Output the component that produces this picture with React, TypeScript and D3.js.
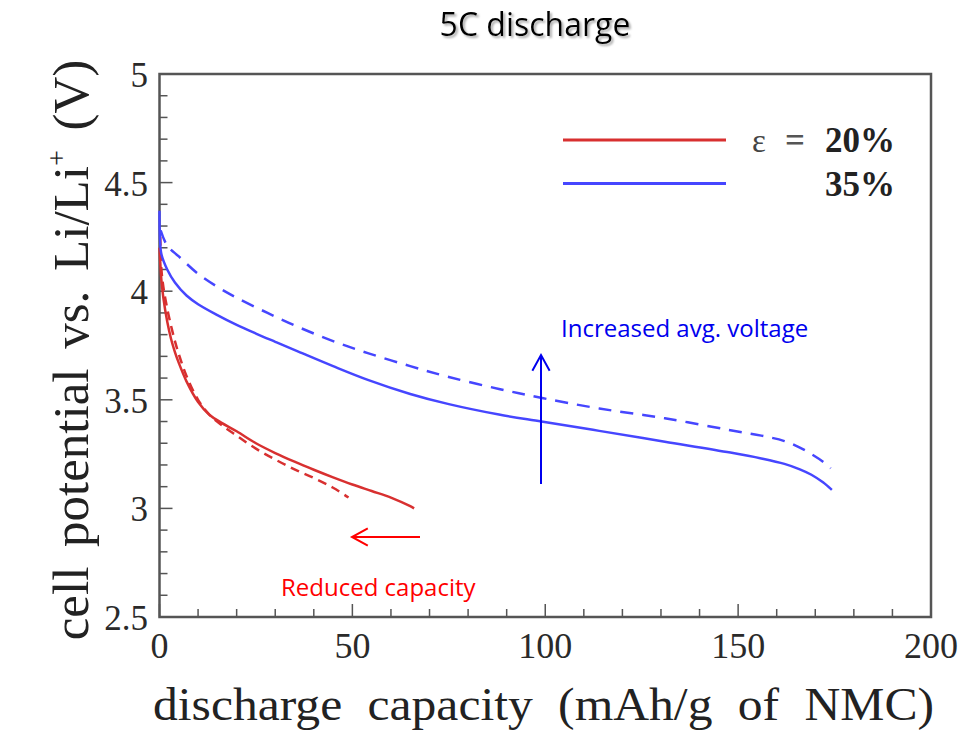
import { useEffect, useRef } from "react";
import * as d3 from "d3";

type Pt = [number, number];

// discharge capacity (mAh/g) vs cell potential (V)
const red20Solid: Pt[] = [
  [0, 4.2], [0.5, 4.05], [1, 3.97], [2, 3.86], [3, 3.78], [4, 3.72], [5, 3.67],
  [7, 3.585], [10, 3.49], [13, 3.43], [16, 3.395], [20, 3.355], [25, 3.3], [30, 3.255],
  [35, 3.215], [40, 3.178], [45, 3.143], [50, 3.11], [55, 3.08], [60, 3.05], [65, 3.01], [66, 3.0],
];
const red20Dashed: Pt[] = [
  [0.2, 4.25], [0.5, 4.1], [1, 4.02], [2, 3.92], [3, 3.84], [4, 3.77], [5, 3.71],
  [7, 3.61], [10, 3.5], [13, 3.43], [16, 3.385], [20, 3.335], [25, 3.275], [30, 3.225],
  [35, 3.18], [40, 3.14], [45, 3.095], [49, 3.05],
];
const blue35Solid: Pt[] = [
  [0, 4.37], [0.1, 4.25], [0.5, 4.17], [2, 4.1], [4, 4.04], [7, 3.98], [10, 3.94],
  [15, 3.89], [20, 3.845], [25, 3.805], [30, 3.767], [36, 3.722], [45, 3.655], [54, 3.592],
  [65, 3.527], [75, 3.48], [88, 3.432], [99, 3.4], [114, 3.357], [131, 3.307], [148, 3.257],
  [156, 3.23], [162, 3.205], [166, 3.18], [169, 3.155], [172, 3.12], [174.3, 3.085],
];
const blue35Dashed: Pt[] = [
  [0.3, 4.28], [2, 4.21], [5, 4.16], [10, 4.08], [15, 4.02], [20, 3.97], [28, 3.9],
  [36, 3.835], [45, 3.77], [54, 3.715], [65, 3.655], [75, 3.605], [88, 3.55], [99.5, 3.507],
  [114, 3.46], [131, 3.415], [148, 3.36], [156, 3.335], [162, 3.31], [166, 3.28],
  [169, 3.25], [172, 3.215], [174, 3.185],
];

const xTicks = [0, 50, 100, 150, 200];
const yTicks = [2.5, 3, 3.5, 4, 4.5, 5];
const legendLabels = ["20%", "35%"];

const RED = "#d83030";
const BLUE = "#4646ff";
const SERIF = "'Liberation Serif', 'Times New Roman', serif";
const SANS = "'Open Sans', 'Noto Sans', sans-serif";

export default function App() {
  const ref = useRef<SVGSVGElement | null>(null);

  useEffect(() => {
    if (!ref.current) return;
    const svg = d3.select(ref.current);
    svg.selectAll("*").remove();

    const x = d3.scaleLinear().domain([0, 200]).range([159.5, 931]);
    const y = d3.scaleLinear().domain([2.5, 5]).range([617, 74]);

    const defs = svg.append("defs");
    defs.append("filter").attr("id", "shadow")
      .append("feDropShadow").attr("dx", 2).attr("dy", 2)
      .attr("stdDeviation", 1.2).attr("flood-color", "#888").attr("flood-opacity", 0.7);

    // title with soft shadow
    svg.append("text").attr("x", 535).attr("y", 36).attr("text-anchor", "middle")
      .attr("font-family", SANS).attr("font-size", 32).attr("fill", "#000")
      .attr("filter", "url(#shadow)").text("5C discharge");

    // minor + major ticks (inward)
    const axisCol = "#555";
    const g = svg.append("g");
    d3.range(0, 201, 10).forEach(v => {
      const major = v % 50 === 0;
      g.append("line").attr("x1", x(v)).attr("x2", x(v))
        .attr("y1", y(2.5)).attr("y2", y(2.5) - (major ? 13 : 8))
        .attr("stroke", axisCol).attr("stroke-width", 1.5);
    });
    d3.range(25, 51, 1).forEach(i => {
      const v = i / 10;
      const major = i % 5 === 0;
      g.append("line").attr("y1", y(v)).attr("y2", y(v))
        .attr("x1", x(0)).attr("x2", x(0) + (major ? 13 : 8))
        .attr("stroke", axisCol).attr("stroke-width", 1.5);
    });
    g.append("rect").attr("x", x(0)).attr("y", y(5))
      .attr("width", x(200) - x(0)).attr("height", y(2.5) - y(5))
      .attr("fill", "none").attr("stroke", axisCol).attr("stroke-width", 2.5);

    // tick labels
    svg.append("g").selectAll("text").data(yTicks).enter().append("text")
      .attr("x", 148).attr("y", d => y(d) + 13).attr("text-anchor", "end")
      .attr("font-family", SERIF).attr("font-size", 35).attr("fill", "#2a2a2a")
      .text(d => String(d));
    svg.append("g").selectAll("text").data(xTicks).enter().append("text")
      .attr("x", d => x(d)).attr("y", 658).attr("text-anchor", "middle")
      .attr("font-family", SERIF).attr("font-size", 36).attr("fill", "#2a2a2a")
      .text(d => String(d));

    // axis titles
    svg.append("text").attr("x", 153).attr("y", 720)
      .attr("font-family", SERIF).attr("font-size", 46).attr("fill", "#222")
      .attr("word-spacing", 12)
      .attr("textLength", 781).attr("lengthAdjust", "spacingAndGlyphs")
      .text("discharge capacity (mAh/g of NMC)");

    const yt = svg.append("text").attr("transform", "translate(88,350) rotate(-90)")
      .attr("text-anchor", "middle").attr("font-family", SERIF).attr("font-size", 51)
      .attr("fill", "#222").attr("word-spacing", 7);
    yt.append("tspan").text("cell potential vs. Li/Li");
    yt.append("tspan").attr("dy", -22).attr("font-size", 28).text("+");
    yt.append("tspan").attr("dy", 22).text(" (V)");

    // curves
    const line = d3.line<Pt>().x(d => x(d[0])).y(d => y(d[1])).curve(d3.curveCatmullRom.alpha(0.5));
    const series: { data: Pt[]; color: string; dash?: string }[] = [
      { data: red20Dashed, color: RED, dash: "9,6" },
      { data: red20Solid, color: RED },
      { data: blue35Dashed, color: BLUE, dash: "13,9" },
      { data: blue35Solid, color: BLUE },
    ];
    series.forEach(s => {
      svg.append("path").datum(s.data).attr("d", line).attr("fill", "none")
        .attr("stroke", s.color).attr("stroke-width", 2.5)
        .attr("stroke-dasharray", s.dash ?? null);
    });

    // legend
    [RED, BLUE].forEach((c, i) => {
      const ly = 140 + i * 43.5;
      svg.append("line").attr("x1", 563).attr("x2", 726).attr("y1", ly).attr("y2", ly)
        .attr("stroke", c).attr("stroke-width", 3);
      svg.append("text").attr("x", 895).attr("y", ly + 12).attr("text-anchor", "end")
        .attr("font-family", SERIF).attr("font-size", 35).attr("font-weight", 700)
        .attr("fill", "#222").text(legendLabels[i]);
    });
    svg.append("text").attr("x", 752).attr("y", 152)
      .attr("font-family", SERIF).attr("font-size", 33).attr("fill", "#444").text("ε");
    svg.append("text").attr("x", 785).attr("y", 152)
      .attr("font-family", SERIF).attr("font-size", 35).attr("font-weight", 700)
      .attr("fill", "#555").text("=");

    // annotations
    const arrow = (x1: number, y1: number, x2: number, y2: number, c: string) => {
      const ang = Math.atan2(y2 - y1, x2 - x1);
      const hl = 18, hw = 0.5;
      svg.append("line").attr("x1", x1).attr("y1", y1).attr("x2", x2).attr("y2", y2)
        .attr("stroke", c).attr("stroke-width", 2);
      svg.append("path")
        .attr("d", `M${x2 - hl * Math.cos(ang - hw)},${y2 - hl * Math.sin(ang - hw)} L${x2},${y2} L${x2 - hl * Math.cos(ang + hw)},${y2 - hl * Math.sin(ang + hw)}`)
        .attr("fill", "none").attr("stroke", c).attr("stroke-width", 2);
    };
    arrow(541, 484, 541, 355, "#0000ee");
    arrow(420, 537, 352, 537, "#ff0000");

    svg.append("text").attr("x", 561).attr("y", 337)
      .attr("font-family", SANS).attr("font-size", 24).attr("fill", "#0000ee")
      .text("Increased avg. voltage");
    svg.append("text").attr("x", 281).attr("y", 596)
      .attr("font-family", SANS).attr("font-size", 24).attr("fill", "#ff0000")
      .text("Reduced capacity");
  }, []);

  return (
    <svg ref={ref} width={961} height={734}
      style={{ position: "absolute", left: 0, top: 0, background: "#fff" }} />
  );
}
